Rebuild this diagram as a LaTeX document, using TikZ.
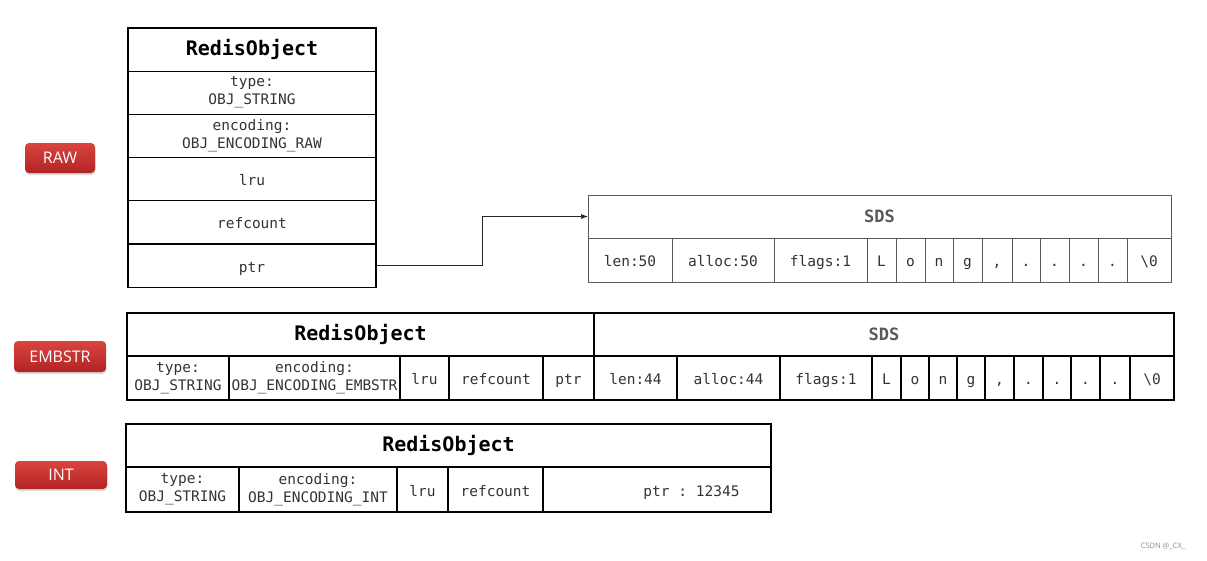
\documentclass[tikz,border=0pt]{standalone}
\usepackage{fontspec}
\setmainfont{Open Sans}
\setsansfont{Open Sans}
\setmonofont{DejaVu Sans Mono}
\usepackage{tikz}
\usetikzlibrary{positioning, shadows, arrows.meta}
\definecolor{tagtop}{RGB}{218, 68, 62}
\definecolor{tagbottom}{RGB}{176, 36, 36}
\definecolor{celltext}{RGB}{51, 51, 51}
\definecolor{sdsgray}{RGB}{90, 90, 90}
\newcommand{\cellfont}{\ttfamily\fontsize{14.5}{18}\selectfont}
\newcommand{\cellstrut}{\rule[-4pt]{0pt}{21pt}}

\begin{document}
\begin{tikzpicture}[
    x=1pt, y=-1pt,
    tag/.style={rectangle, rounded corners=4pt, top color=tagtop, bottom color=tagbottom, text=white, font=\sffamily\fontsize{16}{18}\selectfont, minimum height=30pt, inner sep=0pt, drop shadow={opacity=0.3, shadow xshift=0.5pt, shadow yshift=-2pt}},
    title/.style={rectangle, draw=black, line width=1.3pt, inner sep=0pt, outer sep=0pt, minimum height=43pt, minimum width=#1, font=\ttfamily\bfseries\fontsize{20}{24}\selectfont},
    sdstitle/.style={title=#1, text=sdsgray, font=\ttfamily\bfseries\fontsize{17}{20}\selectfont},
    cell/.style={rectangle, draw=black, line width=1.3pt, inner sep=0pt, outer sep=0pt, minimum height=44pt, minimum width=#1, align=center, text=celltext, font=\cellfont, execute at begin node=\cellstrut},
    rawcell/.style={cell=248pt, minimum height=43.2pt},
    graycell/.style={cell=#1, draw=sdsgray, line width=1pt},
    arrow/.style={->, >={Latex[length=7pt, width=5pt]}, line width=0.7pt, draw=black!85}
]
    \useasboundingbox (0,0) rectangle (1207,560);

    % RAW
    \node[tag, minimum width=70pt] (rawtag) at (60,158) {RAW};
    \node[title=248pt, minimum height=43.2pt] (rtitle) at (252,49.6) {RedisObject};
    \node[rawcell, below=0pt of rtitle] (rtype) {type:\\OBJ\_STRING};
    \node[rawcell, below=0pt of rtype] (renc) {encoding:\\OBJ\_ENCODING\_RAW};
    \node[rawcell, below=0pt of renc] (rlru) {lru};
    \node[rawcell, below=0pt of rlru] (rref) {refcount};
    \node[rawcell, below=0pt of rref] (rptr) {ptr};

    \node[sdstitle=583pt, draw=sdsgray, line width=1pt] (rsds) at (879.5,216.5) {SDS};
    \node[graycell=84pt, anchor=north west] (rlen) at (rsds.south west) {len:50};
    \node[graycell=102pt, right=0pt of rlen] (ralloc) {alloc:50};
    \node[graycell=93pt, right=0pt of ralloc] (rflags) {flags:1};
    \node[graycell=29pt, right=0pt of rflags] (rc1) {L};
    \node[graycell=29pt, right=0pt of rc1] (rc2) {o};
    \node[graycell=28pt, right=0pt of rc2] (rc3) {n};
    \node[graycell=29pt, right=0pt of rc3] (rc4) {g};
    \node[graycell=30pt, right=0pt of rc4] (rc5) {,};
    \node[graycell=28pt, right=0pt of rc5] (rc6) {.};
    \node[graycell=29pt, right=0pt of rc6] (rc7) {.};
    \node[graycell=29pt, right=0pt of rc7] (rc8) {.};
    \node[graycell=29pt, right=0pt of rc8] (rc9) {.};
    \node[graycell=44pt, right=0pt of rc9] (rend) {\textbackslash 0};

    \draw[arrow] (rptr.east) -- ++(106,0) |- (rsds.west);

    % EMBSTR
    \node[tag, minimum width=92pt, minimum height=31pt] (embtag) at (60,356.5) {EMBSTR};
    \node[title=467pt] (etitle) at (360.5,334.5) {RedisObject};
    \node[sdstitle=580pt, right=0pt of etitle] (esds) {SDS};
    \node[cell=102pt, anchor=north west] (etype) at (etitle.south west) {type:\\OBJ\_STRING};
    \node[cell=171pt, right=0pt of etype] (eenc) {encoding:\\OBJ\_ENCODING\_EMBSTR};
    \node[cell=49pt, right=0pt of eenc] (elru) {lru};
    \node[cell=94pt, right=0pt of elru] (eref) {refcount};
    \node[cell=51pt, right=0pt of eref] (eptr) {ptr};
    \node[cell=83pt, right=0pt of eptr] (elen) {len:44};
    \node[cell=103pt, right=0pt of elen] (ealloc) {alloc:44};
    \node[cell=92pt, right=0pt of ealloc] (eflags) {flags:1};
    \node[cell=29pt, right=0pt of eflags] (ec1) {L};
    \node[cell=28pt, right=0pt of ec1] (ec2) {o};
    \node[cell=28pt, right=0pt of ec2] (ec3) {n};
    \node[cell=28pt, right=0pt of ec3] (ec4) {g};
    \node[cell=29pt, right=0pt of ec4] (ec5) {,};
    \node[cell=29pt, right=0pt of ec5] (ec6) {.};
    \node[cell=28pt, right=0pt of ec6] (ec7) {.};
    \node[cell=29pt, right=0pt of ec7] (ec8) {.};
    \node[cell=30pt, right=0pt of ec8] (ec9) {.};
    \node[cell=44pt, right=0pt of ec9] (eend) {\textbackslash 0};

    % INT
    \node[tag, minimum width=92pt, minimum height=28pt] (inttag) at (61,475) {INT};
    \node[title=645pt] (ititle) at (448.5,445.5) {RedisObject};
    \node[cell=113pt, minimum height=45pt, line width=1.7pt, anchor=north west] (itype) at (ititle.south west) {type:\\OBJ\_STRING};
    \node[cell=158pt, minimum height=45pt, right=0pt of itype] (ienc) {encoding:\\OBJ\_ENCODING\_INT};
    \node[cell=51pt, minimum height=45pt, right=0pt of ienc] (ilru) {lru};
    \node[cell=95pt, minimum height=45pt, right=0pt of ilru] (iref) {refcount};
    \node[cell=228pt, minimum height=45pt, right=0pt of iref] (iptr) {\hspace*{69pt}ptr : 12345};

    \node[text=black!45, font=\sffamily\fontsize{7.5}{9}\selectfont] (mark) at (1163,546) {CSDN @\_CX\_};

\end{tikzpicture}
\end{document}
